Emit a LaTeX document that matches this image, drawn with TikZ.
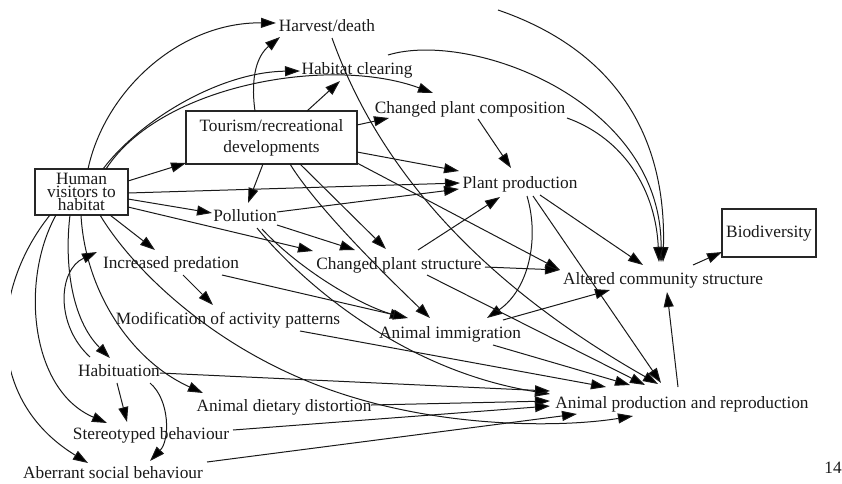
\documentclass[tikz,border=0pt]{standalone}
\usepackage{fontspec}
\setmainfont{Liberation Serif}
\usetikzlibrary{arrows.meta,calc}
\newcommand{\dfnt}{\fontsize{17.3}{19}\selectfont}
\tikzset{
  lbl/.style={inner sep=0pt, text height=12pt, text depth=0pt, font=\dfnt, text=black!90},
  boxnode/.style={draw=black!85, line width=1.1pt, inner sep=0pt, align=center, text=black!90},
  link/.style={draw=black!90, line width=1pt, -{Triangle[length=15pt,width=10pt,fill=black]}},
}
\begin{document}
\begin{tikzpicture}[x=1pt,y=-1pt]
\useasboundingbox (0,0) rectangle (842,483);
% boxes
\node[boxnode, minimum width=93pt, minimum height=46pt, font=\fontsize{17.3}{10.5}\selectfont] (h) at (81.5,192) {Human\\visitors to\\habitat};
\node[boxnode, minimum width=171pt, minimum height=53pt, font=\fontsize{17.3}{21}\selectfont] (tour) at (271.5,137.5) {Tourism/recreational\\developments};
\node[boxnode, minimum width=94pt, minimum height=48pt, font=\dfnt] (bio) at (769,233) {Biodiversity};
% labels
\node[lbl] (harv) at (327,25) {Harvest/death};
\node[lbl] (hc) at (357,68) {Habitat clearing};
\node[lbl] (cpc) at (470,107) {Changed plant composition};
\node[lbl] (pp) at (520,182) {Plant production};
\node[lbl] (pol) at (245,215) {Pollution};
\node[lbl] (cps) at (399,263) {Changed plant structure};
\node[lbl] (ip) at (171,262) {Increased predation};
\node[lbl] (acs) at (663,278) {Altered community structure};
\node[lbl] (mod) at (228,318) {Modification of activity patterns};
\node[lbl] (ai) at (450,332) {Animal immigration};
\node[lbl] (hab) at (119,370) {Habituation};
\node[lbl] (add) at (284,405) {Animal dietary distortion};
\node[lbl] (apr) at (682,402) {Animal production and reproduction};
\node[lbl] (sb) at (151,433) {Stereotyped behaviour};
\node[lbl] (asb) at (113,472) {Aberrant social behaviour};
\node[lbl] (n14) at (833,467) {14};
\coordinate (topsrc) at (498,10);

% from Human visitors
\draw[link] ($(h)+(6.5,-23)$) .. controls (105,90) and (180,22) .. ($(harv)+(-51,-2)$);
\draw[link] ($(h)+(21.5,-23)$) .. controls (140,120) and (220,72) .. ($(hc)+(-57,3)$);
\draw[link] ($(h)+(24.5,-23)$) .. controls (160,85) and (330,55) .. ($(cpc)+(-37,-14)$);
\draw[link] ($(h)+(46.5,-11)$) -- ($(tour)+(-85.5,25.5)$);
\draw[link] ($(h)+(46.5,1)$) -- ($(pp)+(-60,1)$);
\draw[link] ($(h)+(46.5,7)$) -- ($(pol)+(-33,-2)$);
\draw[link] ($(h)+(46.5,15)$) -- ($(cps)+(-86,-12)$);
\draw[link] ($(h)+(28.5,23)$) -- ($(ip)+(-16,-12)$);
\draw[link] ($(h)+(-11.5,23)$) .. controls (64,265) and (72,320) .. ($(hab)+(-9,-12)$);
\draw[link] ($(h)+(-0.5,23)$) .. controls (85,290) and (130,360) .. ($(add)+(-81,-12)$);
\draw[link] ($(h)+(-25.5,23)$) .. controls (20,280) and (30,390) .. ($(sb)+(-44,-10)$);
\begin{scope}
\clip (11,0) rectangle (842,483);
\draw[link] ($(h)+(-31.5,23)$) .. controls (-10,290) and (-15,400) .. ($(asb)+(-25,-9)$);
\end{scope}
\draw[link] ($(h)+(18.5,23)$) .. controls (130,265) and (200,335) .. (300,378) .. controls (420,430) and (560,428) .. ($(apr)+(-49,14)$);

% from Tourism
\draw[link] ($(tour)+(-8.5,26.5)$) -- ($(pol)+(3,-12)$);
\draw[link] ($(tour)+(-16.5,-26.5)$) .. controls (250,75) and (258,55) .. ($(harv)+(-47,12)$);
\draw[link] ($(tour)+(35.5,-26.5)$) -- ($(hc)+(-17,13)$);
\draw[link] ($(tour)+(85.5,-12.5)$) -- ($(cpc)+(-81,11)$);
\draw[link] ($(tour)+(85.5,14.5)$) -- ($(pp)+(-61,-11)$);
\draw[link] ($(tour)+(85.5,25.5)$) -- ($(acs)+(-103,-8)$);
\draw[link] ($(tour)+(28.5,26.5)$) -- ($(cps)+(-13,-14)$);
\draw[link] ($(tour)+(18.5,26.5)$) .. controls (315,205) and (380,270) .. ($(ai)+(-20,-14)$);

% from Pollution
\draw[link] ($(pol)+(32,-3)$) -- ($(pp)+(-61,7)$);
\draw[link] ($(pol)+(32,10)$) -- ($(cps)+(-44,-13)$);
\draw[link] ($(pol)+(17,14)$) .. controls (300,270) and (360,305) .. ($(ai)+(-45,-14)$);
\draw[link] ($(pol)+(12,13)$) .. controls (300,280) and (400,370) .. ($(apr)+(-132,-8)$);

% upper right
\draw[link] ($(harv)+(5,13)$) .. controls (365,130) and (440,260) .. ($(apr)+(-24,-18)$);
\draw[link] ($(hc)+(31,-13)$) .. controls (470,30) and (662,100) .. ($(acs)+(-2,-16)$);
\draw[link] (topsrc) .. controls (600,45) and (667,120) .. ($(acs)+(0,-16)$);
\draw[link] ($(cpc)+(97,11)$) .. controls (615,135) and (655,180) .. ($(acs)+(-4,-16)$);
\draw[link] ($(cpc)+(8,12)$) -- ($(pp)+(-9,-14)$);
\draw[link] ($(pp)+(13,14)$) -- ($(apr)+(-21,-19)$);
\draw[link] ($(pp)+(20,13)$) -- ($(acs)+(-20,-13)$);
\draw[link] ($(pp)+(7,14)$) .. controls (540,240) and (528,290) .. ($(ai)+(37,-14)$);
\draw[link] ($(cps)+(19,-13)$) -- ($(pp)+(-20,15)$);
\draw[link] ($(cps)+(86,4)$) -- ($(acs)+(-103,-8)$);
\draw[link] ($(cps)+(28,12)$) -- ($(apr)+(-37,-17)$);
\draw[link] ($(ai)+(53,-12)$) -- ($(acs)+(-53,12)$);
\draw[link] ($(ai)+(43,13)$) -- ($(apr)+(-52,-17)$);
\draw[link] ($(apr)+(-4,-15)$) -- ($(acs)+(4,14)$);
\draw[link] ($(acs)+(30,-13)$) -- ($(bio)+(-47,19)$);

% lower left
\draw[link] ($(ip)+(12,13)$) -- ($(mod)+(-15,-13)$);
\draw[link] ($(ip)+(51,13)$) -- ($(ai)+(-42,-14)$);
\draw[link] ($(mod)+(72,13)$) -- ($(apr)+(-76,-15)$);
\draw[link] ($(hab)+(-29,-13)$) .. controls (55,325) and (58,270) .. ($(ip)+(-74,-10)$);
\draw[link] ($(hab)+(-2,13)$) -- ($(sb)+(-24,-11)$);
\draw[link] ($(hab)+(31,13)$) .. controls (170,400) and (170,440) .. ($(asb)+(37,-11)$);
\draw[link] ($(hab)+(41,3)$) -- ($(apr)+(-132,-11)$);
\draw[link] ($(add)+(87,0)$) -- ($(apr)+(-132,-1)$);
\draw[link] ($(sb)+(82,-3)$) -- ($(apr)+(-132,4)$);
\draw[link] ($(asb)+(94,-10)$) -- ($(apr)+(-105,12)$);
\end{tikzpicture}
\end{document}
